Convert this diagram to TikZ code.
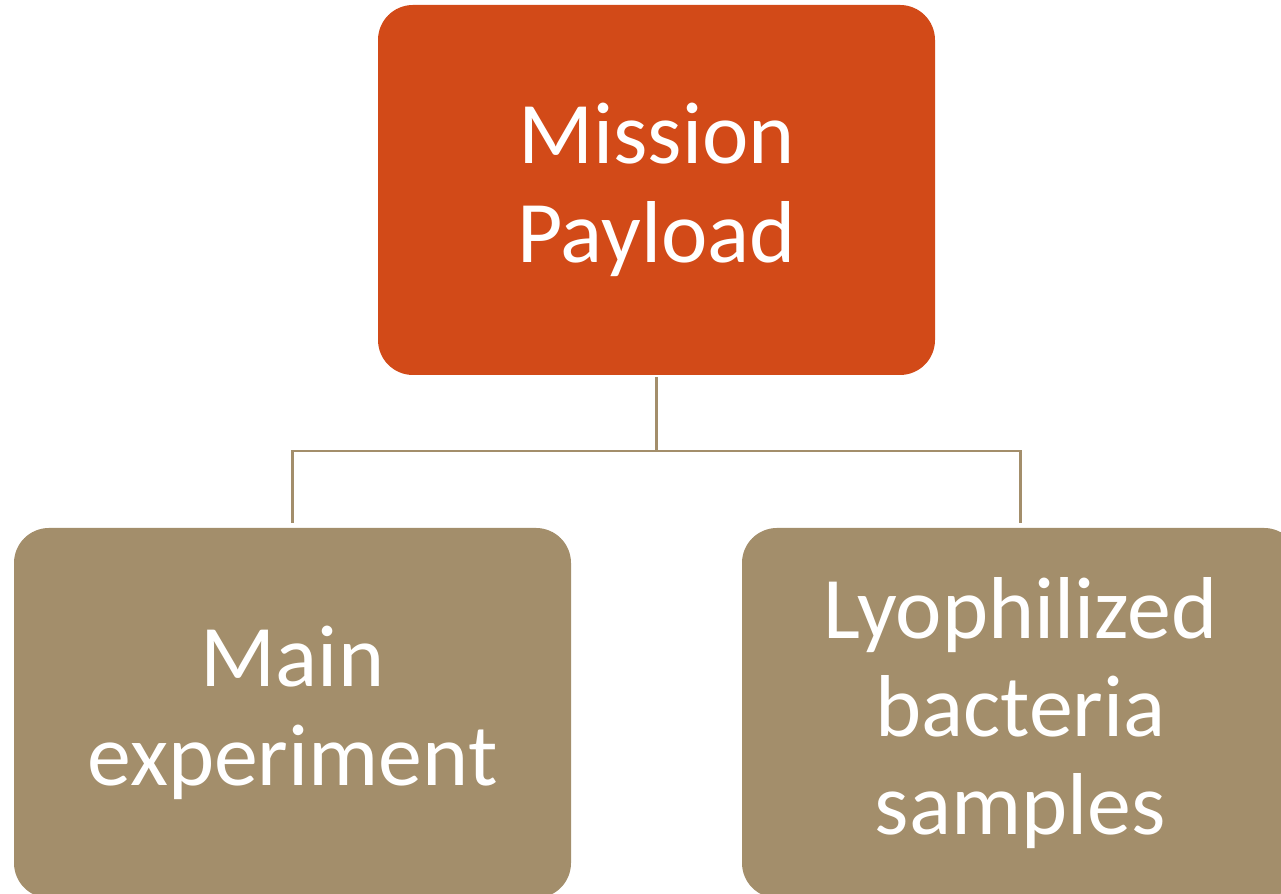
\documentclass[tikz,border=0pt]{standalone}
\usepackage{fontspec}
\setmainfont{Carlito}
\usetikzlibrary{positioning}
\definecolor{payloadred}{HTML}{D24A18}
\definecolor{payloadtan}{HTML}{A38E6B}

\begin{document}
\begin{tikzpicture}[
  x=1cm,y=1cm,
  box/.style={rectangle,rounded corners=0.7cm,minimum width=11.14cm,minimum height=7.4cm,
    text=white,align=center,inner sep=0pt,font=\fontsize{50}{56}\selectfont},
  link/.style={draw=payloadtan,line width=1.6pt},
]
  \useasboundingbox (0,0) rectangle (25.62,17.88);

  \node[box,fill=payloadred] (payload) at (13.13,14.08) {Mission\\Payload};
  \node[box,fill=payloadtan] (mainexp) at (5.85,3.62) {Main\\experiment};
  \node[box,fill=payloadtan] (bacteria) at (20.41,3.62) {Lyophilized\\bacteria\\samples};

  \coordinate (hub) at (13.13,8.86);

  \draw[link,shorten <=0.04cm] (payload.south) -- (hub);
  \draw[link,shorten >=0.1cm] (hub) -| (mainexp.north);
  \draw[link,shorten >=0.1cm] (hub) -| (bacteria.north);
\end{tikzpicture}
\end{document}
